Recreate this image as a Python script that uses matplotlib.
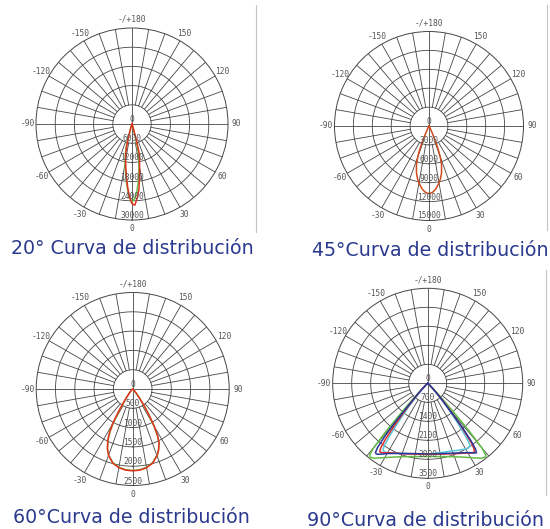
import numpy as np
import matplotlib.pyplot as plt
from matplotlib.lines import Line2D

# ---- data (candela values) ----
ang_20 = [-30, -20, -18, -17, -16, -15, -14, -13, -12, -10, -8, -6, -4, -2, 0,
          2, 4, 6, 8, 10, 12, 13, 14, 15, 16, 17, 18, 20, 30]
red_20 = [0, 300, 800, 1300, 2200, 3800, 6000, 7900, 9400, 11600, 13900, 16600, 19700, 22800, 24900,
          25400, 23200, 20700, 16900, 13600, 11300, 10300, 9000, 5600, 2500, 1100, 600, 300, 0]
green_20 = [0, 300, 900, 1600, 3300, 5500, 7700, 9000, 10300, 12400, 14800, 17500, 20300, 23000, 24300,
            23400, 21300, 18400, 15300, 12400, 9500, 7500, 4500, 2200, 900, 500, 300, 100, 0]
rings_20 = [6000, 12000, 18000, 24000, 30000]

ang_45 = [-90, -40, -35, -30, -26, -24, -23, -22, -21, -20, -18, -15, -12, -9, -6, -3, 0,
          3, 6, 9, 12, 15, 18, 20, 21, 22, 23, 24, 26, 30, 35, 40, 90]
red_45 = [0, 0, 50, 200, 700, 1600, 2500, 3500, 4400, 5200, 6450, 7700, 8650, 9400, 10100, 10550, 10750,
          10550, 10100, 9400, 8650, 7700, 6450, 5200, 4400, 3500, 2500, 1600, 700, 200, 50, 0, 0]
rings_45 = [3000, 6000, 9000, 12000, 15000]

ang_60 = [-90, -60, -50, -45, -40, -36, -34, -32, -30, -28, -26, -23, -20, -15, -10, -5, 0,
          5, 10, 15, 20, 23, 26, 28, 30, 32, 34, 36, 40, 45, 50, 60, 90]
red_60 = [0, 0, 20, 50, 130, 280, 450, 720, 1040, 1280, 1470, 1680, 1830, 1990, 2070, 2110, 2120,
          2110, 2070, 1990, 1840, 1720, 1560, 1380, 1120, 820, 560, 350, 150, 50, 20, 0, 0]
green_60 = [0, 0, 20, 50, 120, 250, 380, 640, 980, 1250, 1450, 1670, 1820, 1980, 2060, 2100, 2110,
            2100, 2060, 1980, 1830, 1710, 1550, 1360, 1090, 780, 520, 330, 140, 50, 20, 0, 0]
rings_60 = [500, 1000, 1500, 2000, 2500]

ang_90 = [-90, -60, -50, -47, -44, -42, -41, -40, -39, -38, -37, -36, -35, -34, -32, -30, -25, -20, -10, 0,
          10, 20, 25, 30, 32, 34, 35, 36, 37, 38, 39, 40, 41, 42, 44, 47, 50, 60, 90]
green_90 = [0, 0, 80, 180, 600, 1400, 2300, 3100, 3400, 3450, 3430, 3400, 3370, 3320, 3240, 3160, 3000, 2880, 2740, 2700,
            2740, 2880, 3000, 3160, 3240, 3320, 3370, 3400, 3430, 3450, 3400, 3100, 2300, 1400, 600, 180, 80, 0, 0]
blue_90 = [0, 0, 30, 90, 280, 650, 1100, 1800, 2500, 3000, 3200, 3220, 3190, 3150, 3070, 2990, 2850, 2750, 2630, 2600,
           2630, 2740, 2830, 2950, 3020, 3100, 3130, 3000, 2650, 2100, 1500, 1000, 800, 500, 250, 90, 30, 0, 0]
red_90 = [0, 0, 30, 90, 280, 600, 850, 1150, 1600, 2100, 2600, 2950, 3080, 3070, 3020, 2950, 2840, 2760, 2650, 2620,
          2650, 2760, 2850, 2960, 3030, 3060, 3000, 2800, 2400, 1950, 1500, 1100, 850, 600, 280, 90, 30, 0, 0]
cyan_90 = [0, 0, 30, 80, 220, 450, 620, 850, 1100, 1450, 1900, 2350, 2750, 2950, 2990, 2960, 2850, 2750, 2640, 2610,
           2600, 2650, 2720, 2790, 2820, 2780, 2600, 2250, 1850, 1450, 1150, 850, 650, 450, 220, 80, 30, 0, 0]
rings_90 = [700, 1400, 2100, 2800, 3500]

angle_ticks = [0, 30, 60, 90, 120, 150, 180, 210, 240, 270, 300, 330]
angle_labels = ["0", "30", "60", "90", "120", "150", "-/+180", "-150", "-120", "-90", "-60", "-30"]

GRID = "#454545"
LABEL = "#555555"
TITLE = "#2b3a8e"


def polar_chart(ax, rings, curves):
    rmax = rings[-1]
    ax.set_theta_zero_location("S")
    ax.set_theta_direction(1)
    ax.set_ylim(0, rmax)
    ax.grid(False)
    ax.set_xticks([])
    ax.set_yticks([])
    ax.spines["polar"].set_color(GRID)
    ax.spines["polar"].set_linewidth(0.7)

    full = np.linspace(0, 2 * np.pi, 361)
    for v in rings[:-1]:
        ax.plot(full, np.full_like(full, v), color=GRID, lw=0.6, zorder=1)
    for d in range(0, 360, 10):
        t = np.deg2rad(d)
        r0 = 0 if d % 90 == 0 else rings[0]
        ax.plot([t, t], [r0, rmax], color=GRID, lw=0.6, zorder=1)

    for ang, vals, col in curves:
        ax.plot(np.deg2rad(ang), vals, color=col, lw=1.1, zorder=3)

    mono = dict(family="DejaVu Sans Mono", fontsize=5.7, color=LABEL)
    for v in [0] + rings:
        ax.text(0, v, str(v), ha="center", va="bottom", zorder=4, **mono)
    for a, lab in zip(angle_ticks, angle_labels):
        ax.text(np.deg2rad(a), rmax * 1.09, lab, ha="center", va="center",
                clip_on=False, **mono)


fig = plt.figure(figsize=(5.5, 5.29), dpi=100)
W, H = 550, 529


def add_polar(cx, cy, r):
    return fig.add_axes([(cx - r) / W, 1 - (cy + r) / H, 2 * r / W, 2 * r / H],
                        projection="polar")


ax1 = add_polar(132, 124, 96)
polar_chart(ax1, rings_20, [(ang_20, green_20, "#6cbf4a"), (ang_20, red_20, "#e2311d")])

ax2 = add_polar(429, 126, 94.5)
polar_chart(ax2, rings_45, [(ang_45, red_45, "#cf4a1c")])

ax3 = add_polar(132.7, 389, 96.5)
polar_chart(ax3, rings_60, [(ang_60, green_60, "#6cbf4a"), (ang_60, red_60, "#e2311d")])

ax4 = add_polar(427.7, 383.3, 95)
polar_chart(ax4, rings_90, [(ang_90, green_90, "#63bd45"), (ang_90, cyan_90, "#55c6dc"),
                            (ang_90, red_90, "#e0302a"), (ang_90, blue_90, "#27379a")])

titles = [("20° Curva de distribución", 132.5, 254),
          ("45°Curva de distribución", 430.5, 256),
          ("60°Curva de distribución", 131.7, 523),
          ("90°Curva de distribución", 425.8, 526)]
for txt, x, y in titles:
    fig.text(x / W, 1 - y / H, txt, ha="center", va="baseline",
             family="DejaVu Sans", fontsize=13.7, color=TITLE)

# thin separators at the right edge of the panels
for x, y0, y1 in [(256, 5, 232), (546.5, 5, 230), (546, 270, 495)]:
    fig.add_artist(Line2D([x / W, x / W], [1 - y0 / H, 1 - y1 / H],
                          color="#c4c4c4", lw=0.8))

fig.savefig("out.png", dpi=100)
